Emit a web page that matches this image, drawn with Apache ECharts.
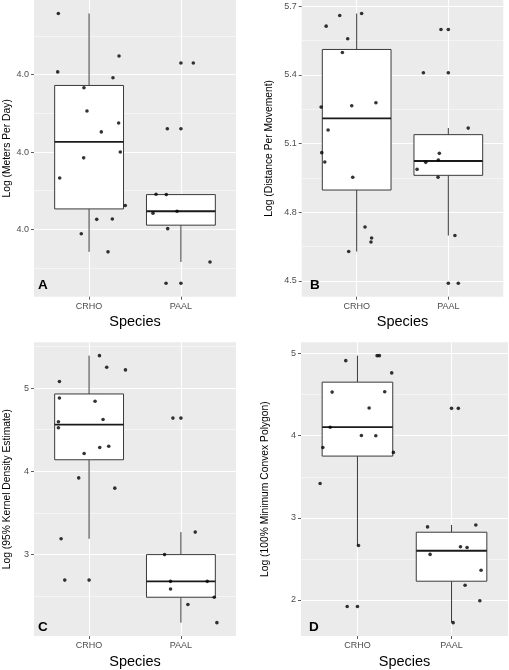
<!DOCTYPE html>
<html lang="en">
<head>
<meta charset="UTF-8">
<title>Species boxplots</title>
<style>
  html, body { margin: 0; padding: 0; background: #fff; }
  #chart { width: 509px; height: 670px; }
</style>
</head>
<body>
<div id="chart"></div>
<script src="https://cdn.jsdelivr.net/npm/echarts@6/dist/echarts.min.js"></script>
<script>
var species = ['CRHO', 'PAAL'];

// A - log meters per day
var aTicks = [3.98, 4.00, 4.02];
var aTickLabels = ['4.0', '4.0', '4.0'];
var aMinor = [3.97, 3.99, 4.01, 4.03];
var aCrhoY = [4.0358, 4.0207, 4.0248, 4.0192, 4.0166, 4.0106, 4.0075, 4.0052, 4.0000, 3.9985, 3.9933, 3.9862, 3.9826, 3.9827, 3.9789, 3.9742];
var aCrhoJit = [-0.335, -0.342, 0.326, 0.26, -0.056, -0.023, 0.322, 0.133, 0.34, -0.059, -0.32, 0.394, 0.083, 0.253, -0.085, 0.206];
var aPaalY = [4.0230, 4.0230, 4.0060, 4.0060, 3.9891, 3.9890, 3.9842, 3.9847, 3.9802, 3.9716, 3.9661, 3.9661];
var aPaalJit = [0, 0.135, -0.148, 0, -0.271, -0.159, -0.304, -0.042, -0.144, 0.317, -0.162, 0];
// [min, q1, median, q3, max] per species
var aBox = [[3.9742, 3.9853, 4.0026, 4.0172, 4.0358], [3.9716, 3.9811, 3.9847, 3.9890, 3.9891]];

// B - log distance per movement
var bTicks = [4.5, 4.8, 5.1, 5.4, 5.7];
var bTickLabels = ['4.5', '4.8', '5.1', '5.4', '5.7'];
var bMinor = [4.65, 4.95, 5.25, 5.55];
var bCrhoY = [5.6127, 5.6594, 5.6681, 5.5577, 5.498, 5.2593, 5.2654, 5.2785, 5.1589, 5.0603, 5.0193, 4.9525, 4.7357, 4.6877, 4.6702, 4.6283];
var bCrhoJit = [-0.333, -0.185, 0.054, -0.098, -0.156, -0.388, -0.054, 0.21, -0.312, -0.381, -0.348, -0.043, 0.091, 0.163, 0.156, -0.087];
var bPaalY = [5.5983, 5.5983, 5.4094, 5.4094, 5.1676, 5.0572, 5.028, 5.018, 4.9874, 4.9525, 4.6981, 4.49, 4.49];
var bPaalJit = [-0.08, 0, -0.272, 0, 0.217, -0.098, -0.109, -0.246, -0.341, -0.112, 0.072, 0, 0.109];
var bBox = [[4.6283, 4.897, 5.21, 5.511, 5.6681], [4.6981, 4.9612, 5.0237, 5.1389, 5.1676]];

// C - log 95% kernel density estimate
var cTicks = [3, 4, 5];
var cTickLabels = ['3', '4', '5'];
var cMinor = [2.5, 3.5, 4.5, 5.5];
var cCrhoY = [5.389, 5.25, 5.218, 5.079, 4.881, 4.841, 4.623, 4.595, 4.524, 4.286, 4.302, 4.214, 3.921, 3.798, 3.19, 2.694, 2.694];
var cCrhoJit = [0.113, 0.192, 0.396, -0.323, -0.323, 0.065, 0.152, -0.334, -0.334, 0.116, 0.214, -0.054, -0.113, 0.28, -0.305, -0.265, 0];
var cPaalY = [4.639, 4.639, 3.27, 3.0, 2.679, 2.679, 2.587, 2.488, 2.401, 2.183];
var cPaalJit = [-0.087, 0, 0.156, -0.178, -0.113, 0.287, -0.113, 0.363, 0.076, 0.392];
var cBox = [[3.19, 4.139, 4.56, 4.929, 5.389], [2.183, 2.488, 2.679, 3.0, 3.27]];

// D - log 100% minimum convex polygon
var dTicks = [2, 3, 4, 5];
var dTickLabels = ['2', '3', '4', '5'];
var dMinor = [2.5, 3.5, 4.5];
var dCrhoY = [4.915, 4.976, 4.976, 4.766, 4.532, 4.536, 4.338, 4.104, 4.003, 3.999, 3.857, 3.797, 3.417, 2.662, 1.919, 1.919];
var dCrhoJit = [-0.124, 0.209, 0.233, 0.364, -0.269, 0.29, 0.124, -0.29, 0.042, 0.195, -0.368, 0.382, -0.397, 0.011, -0.109, 0];
var dPaalY = [4.334, 4.334, 2.889, 2.913, 2.647, 2.638, 2.554, 2.36, 2.178, 1.988, 1.722];
var dPaalJit = [0, 0.072, -0.255, 0.258, 0.095, 0.165, -0.228, 0.314, 0.144, 0.301, 0.017];
var dBox = [[2.662, 3.752, 4.104, 4.653, 4.976], [1.722, 2.227, 2.598, 2.824, 2.913]];

var panels = [
    {letter: 'A', title: 'Log (Meters Per Day)', ticks: aTicks, labels: aTickLabels, minor: aMinor,
     crho: [aCrhoJit, aCrhoY], paal: [aPaalJit, aPaalY], box: aBox,
     rect: {left: 34, top: 0, width: 202, height: 296.7}, nameGap: 22, pos: [38, 278]},
    {letter: 'B', title: 'Log (Distance Per Movement)', ticks: bTicks, labels: bTickLabels, minor: bMinor,
     crho: [bCrhoJit, bCrhoY], paal: [bPaalJit, bPaalY], box: bBox,
     rect: {left: 301.7, top: 0, width: 201.6, height: 296.7}, nameGap: 28, pos: [310, 278]},
    {letter: 'C', title: 'Log (95% Kernel Density Estimate)', ticks: cTicks, labels: cTickLabels, minor: cMinor,
     crho: [cCrhoJit, cCrhoY], paal: [cPaalJit, cPaalY], box: cBox,
     rect: {left: 34, top: 342.3, width: 202, height: 296}, nameGap: 22, pos: [38, 620]},
    {letter: 'D', title: 'Log (100% Minimum Convex Polygon)', ticks: dTicks, labels: dTickLabels, minor: dMinor,
     crho: [dCrhoJit, dCrhoY], paal: [dPaalJit, dPaalY], box: dBox,
     rect: {left: 301, top: 342.3, width: 207, height: 296}, nameGap: 31, pos: [309, 620]}
];

var fontFamily = '"Liberation Sans", Arial, Helvetica, sans-serif';
var boxHalf = 0.375;

// ggplot style: data range padded by 5% each side
function padRange(p) {
    var all = p.crho[1].concat(p.paal[1], p.box[0], p.box[1]);
    var lo = Math.min.apply(null, all), hi = Math.max.apply(null, all);
    var d = (hi - lo) * 0.05;
    return [lo - d, hi + d];
}

function renderBox(params, api) {
    var x = api.value(0);
    var q1 = api.coord([x - boxHalf, api.value(2)]);
    var q3 = api.coord([x + boxHalf, api.value(4)]);
    var wLo = api.coord([x, api.value(1)]);
    var wHi = api.coord([x, api.value(5)]);
    var mL = api.coord([x - boxHalf, api.value(3)]);
    var mR = api.coord([x + boxHalf, api.value(3)]);
    var edge = {stroke: '#3a3a3a', lineWidth: 1};
    return {
        type: 'group',
        children: [
            {type: 'line', shape: {x1: wHi[0], y1: wHi[1], x2: wHi[0], y2: q3[1]}, style: edge},
            {type: 'line', shape: {x1: wLo[0], y1: q1[1], x2: wLo[0], y2: wLo[1]}, style: edge},
            {type: 'rect', shape: {x: q1[0], y: q3[1], width: q3[0] - q1[0], height: q1[1] - q3[1]},
             style: {fill: '#fff', stroke: '#3a3a3a', lineWidth: 1}},
            {type: 'line', shape: {x1: mL[0], y1: mL[1], x2: mR[0], y2: mR[1]},
             style: {stroke: '#1a1a1a', lineWidth: 1.8}}
        ]
    };
}

var grid = [], xAxis = [], yAxis = [], series = [], title = [];

panels.forEach(function (p, i) {
    var r = padRange(p);
    grid.push({
        left: p.rect.left, top: p.rect.top, width: p.rect.width, height: p.rect.height,
        show: true, backgroundColor: '#ebebeb', borderWidth: 0
    });
    xAxis.push({
        type: 'value', gridIndex: i, min: 0.4, max: 2.6,
        name: 'Species', nameLocation: 'middle', nameGap: 18,
        nameTextStyle: {fontSize: 14.5, color: '#000', fontFamily: fontFamily},
        axisLine: {show: false},
        axisTick: {show: true, length: 3, customValues: [1, 2], lineStyle: {color: '#333', width: 0.8}},
        axisLabel: {customValues: [1, 2], margin: 5, fontSize: 9, color: '#4d4d4d', fontFamily: fontFamily,
            formatter: function (v) { return species[Math.round(v) - 1]; }},
        splitLine: {show: true, lineStyle: {color: '#fff', width: 1}}
    });
    // main axis: labels, ticks, major grid
    yAxis.push({
        type: 'value', gridIndex: i, min: r[0], max: r[1], position: 'left',
        name: p.title, nameLocation: 'middle', nameGap: p.nameGap,
        nameTextStyle: {fontSize: 10.3, color: '#000', fontFamily: fontFamily},
        axisLine: {show: false},
        axisTick: {show: true, length: 3, customValues: p.ticks, lineStyle: {color: '#333', width: 0.8}},
        axisLabel: {customValues: p.ticks, margin: 5, fontSize: 9, color: '#4d4d4d', fontFamily: fontFamily,
            formatter: function (v) {
                for (var k = 0; k < p.ticks.length; k++) {
                    if (Math.abs(p.ticks[k] - v) < 1e-9) return p.labels[k];
                }
                return '';
            }},
        splitLine: {show: true, lineStyle: {color: '#fff', width: 1.1}},
        z: 1
    });
    // overlay axis for the thin minor grid
    yAxis.push({
        type: 'value', gridIndex: i, min: r[0], max: r[1], position: 'left',
        axisLine: {show: false},
        axisTick: {show: false, customValues: p.minor},
        axisLabel: {show: false},
        splitLine: {show: true, lineStyle: {color: '#fff', width: 0.5}},
        z: 0
    });
    series.push({
        type: 'custom', xAxisIndex: i, yAxisIndex: i * 2,
        renderItem: renderBox,
        encode: {x: 0, y: [1, 2, 3, 4, 5]},
        data: p.box.map(function (b, k) { return [k + 1].concat(b); }),
        silent: true, z: 2
    });
    var pts = [];
    [p.crho, p.paal].forEach(function (s, k) {
        s[1].forEach(function (y, j) { pts.push([k + 1 + s[0][j], y]); });
    });
    series.push({
        type: 'scatter', xAxisIndex: i, yAxisIndex: i * 2,
        data: pts, symbolSize: 3.6, itemStyle: {color: '#000'}, silent: true, z: 3
    });
    title.push({
        text: p.letter, left: p.pos[0], top: p.pos[1], padding: 0,
        textStyle: {fontSize: 13.5, fontWeight: 'bold', color: '#000', fontFamily: fontFamily}
    });
});

var chart = echarts.init(document.getElementById('chart'));
chart.setOption({
    animation: false,
    backgroundColor: '#fff',
    title: title,
    grid: grid,
    xAxis: xAxis,
    yAxis: yAxis,
    series: series
});
</script>
</body>
</html>
